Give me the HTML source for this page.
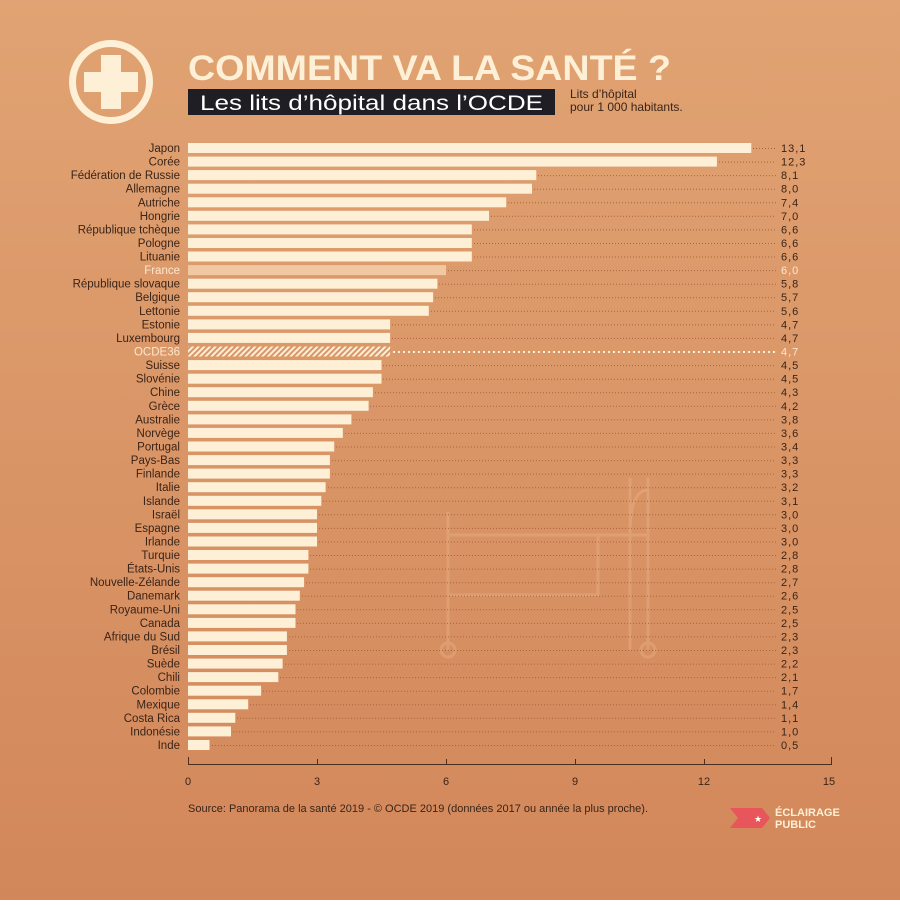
<!DOCTYPE html>
<html><head><meta charset="utf-8"><style>
html,body{margin:0;padding:0}
body{width:900px;height:900px;overflow:hidden}
text{font-family:"Liberation Sans",sans-serif}
.l{font-size:11.5px;fill:#3a2418;text-anchor:end}
.v{font-size:11px;fill:#3a2418;letter-spacing:1px}
.b{fill:#fdf0d6}
.d{stroke:#a8653a;stroke-width:1;stroke-dasharray:1 2}
</style></head><body>
<svg width="900" height="900" viewBox="0 0 900 900" xmlns="http://www.w3.org/2000/svg">
<defs>
<linearGradient id="bg" x1="0" y1="0" x2="0" y2="1"><stop offset="0" stop-color="#e1a373"/><stop offset="1" stop-color="#d2875a"/></linearGradient>
<pattern id="hatch" width="4" height="4" patternUnits="userSpaceOnUse" patternTransform="rotate(45)"><rect width="4" height="4" fill="#d99668"/><rect width="2" height="4" fill="#fdf0d6"/></pattern>
</defs>
<rect width="900" height="900" fill="url(#bg)"/>
<g fill="none" stroke="#eab48a" stroke-width="3" opacity="0.4">
<path d="M448 512 V650 M448 535 H598 V595 H448 M598 535 H648 M630 478 V650 M648 478 V650 M630 535 Q630 490 648 490"/>
<circle cx="448" cy="650" r="7"/><circle cx="648" cy="650" r="7"/>
</g>
<circle cx="111" cy="82" r="38.5" fill="none" stroke="#fdf0d6" stroke-width="7"/>
<rect x="84" y="72" width="54" height="20" fill="#fdf0d6"/>
<rect x="101" y="55" width="20" height="54" fill="#fdf0d6"/>
<text x="188" y="80" font-size="35" font-weight="bold" fill="#fdf0d6" textLength="483" lengthAdjust="spacingAndGlyphs">COMMENT VA LA SANTÉ ?</text>
<rect x="188" y="89" width="367" height="26" fill="#1f1e24"/>
<text x="200" y="110" font-size="21" fill="#ffffff" textLength="343" lengthAdjust="spacingAndGlyphs">Les lits d’hôpital dans l’OCDE</text>
<text x="570" y="98" font-size="12" fill="#3a2418">Lits d’hôpital</text>
<text x="570" y="111" font-size="12" fill="#3a2418">pour 1 000 habitants.</text>

<g id="rows">
<g transform="translate(0,148)"><text class="l" x="180" y="4">Japon</text><rect class="b" x="188" y="-5" width="563.3" height="10"/><line class="d" x1="753" x2="776" y1="0.5" y2="0.5"/><text class="v" x="781" y="4">13,1</text></g>
<g transform="translate(0,161.6)"><text class="l" x="180" y="4">Corée</text><rect class="b" x="188" y="-5" width="528.9" height="10"/><line class="d" x1="719" x2="776" y1="0.5" y2="0.5"/><text class="v" x="781" y="4">12,3</text></g>
<g transform="translate(0,175.1)"><text class="l" x="180" y="4">Fédération de Russie</text><rect class="b" x="188" y="-5" width="348.3" height="10"/><line class="d" x1="538" x2="776" y1="0.5" y2="0.5"/><text class="v" x="781" y="4">8,1</text></g>
<g transform="translate(0,188.7)"><text class="l" x="180" y="4">Allemagne</text><rect class="b" x="188" y="-5" width="344" height="10"/><line class="d" x1="534" x2="776" y1="0.5" y2="0.5"/><text class="v" x="781" y="4">8,0</text></g>
<g transform="translate(0,202.3)"><text class="l" x="180" y="4">Autriche</text><rect class="b" x="188" y="-5" width="318.2" height="10"/><line class="d" x1="508" x2="776" y1="0.5" y2="0.5"/><text class="v" x="781" y="4">7,4</text></g>
<g transform="translate(0,215.8)"><text class="l" x="180" y="4">Hongrie</text><rect class="b" x="188" y="-5" width="301" height="10"/><line class="d" x1="491" x2="776" y1="0.5" y2="0.5"/><text class="v" x="781" y="4">7,0</text></g>
<g transform="translate(0,229.4)"><text class="l" x="180" y="4">République tchèque</text><rect class="b" x="188" y="-5" width="283.8" height="10"/><line class="d" x1="474" x2="776" y1="0.5" y2="0.5"/><text class="v" x="781" y="4">6,6</text></g>
<g transform="translate(0,243)"><text class="l" x="180" y="4">Pologne</text><rect class="b" x="188" y="-5" width="283.8" height="10"/><line class="d" x1="474" x2="776" y1="0.5" y2="0.5"/><text class="v" x="781" y="4">6,6</text></g>
<g transform="translate(0,256.5)"><text class="l" x="180" y="4">Lituanie</text><rect class="b" x="188" y="-5" width="283.8" height="10"/><line class="d" x1="474" x2="776" y1="0.5" y2="0.5"/><text class="v" x="781" y="4">6,6</text></g>
<g transform="translate(0,270.1)"><text class="l" x="180" y="4" style="fill:#fbe8cc">France</text><rect x="188" y="-5" width="258" height="10" fill="#f0c9a3"/><line class="d" x1="448" x2="776" y1="0.5" y2="0.5"/><text class="v" x="781" y="4" style="fill:#fbe8cc">6,0</text></g>
<g transform="translate(0,283.7)"><text class="l" x="180" y="4">République slovaque</text><rect class="b" x="188" y="-5" width="249.4" height="10"/><line class="d" x1="439" x2="776" y1="0.5" y2="0.5"/><text class="v" x="781" y="4">5,8</text></g>
<g transform="translate(0,297.2)"><text class="l" x="180" y="4">Belgique</text><rect class="b" x="188" y="-5" width="245.1" height="10"/><line class="d" x1="435" x2="776" y1="0.5" y2="0.5"/><text class="v" x="781" y="4">5,7</text></g>
<g transform="translate(0,310.8)"><text class="l" x="180" y="4">Lettonie</text><rect class="b" x="188" y="-5" width="240.8" height="10"/><line class="d" x1="431" x2="776" y1="0.5" y2="0.5"/><text class="v" x="781" y="4">5,6</text></g>
<g transform="translate(0,324.4)"><text class="l" x="180" y="4">Estonie</text><rect class="b" x="188" y="-5" width="202.1" height="10"/><line class="d" x1="392" x2="776" y1="0.5" y2="0.5"/><text class="v" x="781" y="4">4,7</text></g>
<g transform="translate(0,337.9)"><text class="l" x="180" y="4">Luxembourg</text><rect class="b" x="188" y="-5" width="202.1" height="10"/><line class="d" x1="392" x2="776" y1="0.5" y2="0.5"/><text class="v" x="781" y="4">4,7</text></g>
<g transform="translate(0,351.5)"><text class="l" x="180" y="4" style="fill:#fbe8cc">OCDE36</text><rect x="188" y="-5" width="202.1" height="10" fill="url(#hatch)"/><line x1="393" x2="776" y1="0.5" y2="0.5" stroke="#fdf0d6" stroke-width="2" stroke-dasharray="2 3"/><text class="v" x="781" y="4" style="fill:#fbe8cc">4,7</text></g>
<g transform="translate(0,365.1)"><text class="l" x="180" y="4">Suisse</text><rect class="b" x="188" y="-5" width="193.5" height="10"/><line class="d" x1="383" x2="776" y1="0.5" y2="0.5"/><text class="v" x="781" y="4">4,5</text></g>
<g transform="translate(0,378.7)"><text class="l" x="180" y="4">Slovénie</text><rect class="b" x="188" y="-5" width="193.5" height="10"/><line class="d" x1="383" x2="776" y1="0.5" y2="0.5"/><text class="v" x="781" y="4">4,5</text></g>
<g transform="translate(0,392.2)"><text class="l" x="180" y="4">Chine</text><rect class="b" x="188" y="-5" width="184.9" height="10"/><line class="d" x1="375" x2="776" y1="0.5" y2="0.5"/><text class="v" x="781" y="4">4,3</text></g>
<g transform="translate(0,405.8)"><text class="l" x="180" y="4">Grèce</text><rect class="b" x="188" y="-5" width="180.6" height="10"/><line class="d" x1="370" x2="776" y1="0.5" y2="0.5"/><text class="v" x="781" y="4">4,2</text></g>
<g transform="translate(0,419.4)"><text class="l" x="180" y="4">Australie</text><rect class="b" x="188" y="-5" width="163.4" height="10"/><line class="d" x1="353" x2="776" y1="0.5" y2="0.5"/><text class="v" x="781" y="4">3,8</text></g>
<g transform="translate(0,432.9)"><text class="l" x="180" y="4">Norvège</text><rect class="b" x="188" y="-5" width="154.8" height="10"/><line class="d" x1="345" x2="776" y1="0.5" y2="0.5"/><text class="v" x="781" y="4">3,6</text></g>
<g transform="translate(0,446.5)"><text class="l" x="180" y="4">Portugal</text><rect class="b" x="188" y="-5" width="146.2" height="10"/><line class="d" x1="336" x2="776" y1="0.5" y2="0.5"/><text class="v" x="781" y="4">3,4</text></g>
<g transform="translate(0,460.1)"><text class="l" x="180" y="4">Pays-Bas</text><rect class="b" x="188" y="-5" width="141.9" height="10"/><line class="d" x1="332" x2="776" y1="0.5" y2="0.5"/><text class="v" x="781" y="4">3,3</text></g>
<g transform="translate(0,473.6)"><text class="l" x="180" y="4">Finlande</text><rect class="b" x="188" y="-5" width="141.9" height="10"/><line class="d" x1="332" x2="776" y1="0.5" y2="0.5"/><text class="v" x="781" y="4">3,3</text></g>
<g transform="translate(0,487.2)"><text class="l" x="180" y="4">Italie</text><rect class="b" x="188" y="-5" width="137.6" height="10"/><line class="d" x1="328" x2="776" y1="0.5" y2="0.5"/><text class="v" x="781" y="4">3,2</text></g>
<g transform="translate(0,500.8)"><text class="l" x="180" y="4">Islande</text><rect class="b" x="188" y="-5" width="133.3" height="10"/><line class="d" x1="323" x2="776" y1="0.5" y2="0.5"/><text class="v" x="781" y="4">3,1</text></g>
<g transform="translate(0,514.3)"><text class="l" x="180" y="4">Israël</text><rect class="b" x="188" y="-5" width="129" height="10"/><line class="d" x1="319" x2="776" y1="0.5" y2="0.5"/><text class="v" x="781" y="4">3,0</text></g>
<g transform="translate(0,527.9)"><text class="l" x="180" y="4">Espagne</text><rect class="b" x="188" y="-5" width="129" height="10"/><line class="d" x1="319" x2="776" y1="0.5" y2="0.5"/><text class="v" x="781" y="4">3,0</text></g>
<g transform="translate(0,541.5)"><text class="l" x="180" y="4">Irlande</text><rect class="b" x="188" y="-5" width="129" height="10"/><line class="d" x1="319" x2="776" y1="0.5" y2="0.5"/><text class="v" x="781" y="4">3,0</text></g>
<g transform="translate(0,555)"><text class="l" x="180" y="4">Turquie</text><rect class="b" x="188" y="-5" width="120.4" height="10"/><line class="d" x1="310" x2="776" y1="0.5" y2="0.5"/><text class="v" x="781" y="4">2,8</text></g>
<g transform="translate(0,568.6)"><text class="l" x="180" y="4">États-Unis</text><rect class="b" x="188" y="-5" width="120.4" height="10"/><line class="d" x1="310" x2="776" y1="0.5" y2="0.5"/><text class="v" x="781" y="4">2,8</text></g>
<g transform="translate(0,582.2)"><text class="l" x="180" y="4">Nouvelle-Zélande</text><rect class="b" x="188" y="-5" width="116.1" height="10"/><line class="d" x1="306" x2="776" y1="0.5" y2="0.5"/><text class="v" x="781" y="4">2,7</text></g>
<g transform="translate(0,595.7)"><text class="l" x="180" y="4">Danemark</text><rect class="b" x="188" y="-5" width="111.8" height="10"/><line class="d" x1="302" x2="776" y1="0.5" y2="0.5"/><text class="v" x="781" y="4">2,6</text></g>
<g transform="translate(0,609.3)"><text class="l" x="180" y="4">Royaume-Uni</text><rect class="b" x="188" y="-5" width="107.5" height="10"/><line class="d" x1="297" x2="776" y1="0.5" y2="0.5"/><text class="v" x="781" y="4">2,5</text></g>
<g transform="translate(0,622.9)"><text class="l" x="180" y="4">Canada</text><rect class="b" x="188" y="-5" width="107.5" height="10"/><line class="d" x1="297" x2="776" y1="0.5" y2="0.5"/><text class="v" x="781" y="4">2,5</text></g>
<g transform="translate(0,636.4)"><text class="l" x="180" y="4">Afrique du Sud</text><rect class="b" x="188" y="-5" width="98.9" height="10"/><line class="d" x1="289" x2="776" y1="0.5" y2="0.5"/><text class="v" x="781" y="4">2,3</text></g>
<g transform="translate(0,650)"><text class="l" x="180" y="4">Brésil</text><rect class="b" x="188" y="-5" width="98.9" height="10"/><line class="d" x1="289" x2="776" y1="0.5" y2="0.5"/><text class="v" x="781" y="4">2,3</text></g>
<g transform="translate(0,663.6)"><text class="l" x="180" y="4">Suède</text><rect class="b" x="188" y="-5" width="94.6" height="10"/><line class="d" x1="285" x2="776" y1="0.5" y2="0.5"/><text class="v" x="781" y="4">2,2</text></g>
<g transform="translate(0,677.1)"><text class="l" x="180" y="4">Chili</text><rect class="b" x="188" y="-5" width="90.3" height="10"/><line class="d" x1="280" x2="776" y1="0.5" y2="0.5"/><text class="v" x="781" y="4">2,1</text></g>
<g transform="translate(0,690.7)"><text class="l" x="180" y="4">Colombie</text><rect class="b" x="188" y="-5" width="73.1" height="10"/><line class="d" x1="263" x2="776" y1="0.5" y2="0.5"/><text class="v" x="781" y="4">1,7</text></g>
<g transform="translate(0,704.3)"><text class="l" x="180" y="4">Mexique</text><rect class="b" x="188" y="-5" width="60.2" height="10"/><line class="d" x1="250" x2="776" y1="0.5" y2="0.5"/><text class="v" x="781" y="4">1,4</text></g>
<g transform="translate(0,717.8)"><text class="l" x="180" y="4">Costa Rica</text><rect class="b" x="188" y="-5" width="47.3" height="10"/><line class="d" x1="237" x2="776" y1="0.5" y2="0.5"/><text class="v" x="781" y="4">1,1</text></g>
<g transform="translate(0,731.4)"><text class="l" x="180" y="4">Indonésie</text><rect class="b" x="188" y="-5" width="43" height="10"/><line class="d" x1="233" x2="776" y1="0.5" y2="0.5"/><text class="v" x="781" y="4">1,0</text></g>
<g transform="translate(0,745)"><text class="l" x="180" y="4">Inde</text><rect class="b" x="188" y="-5" width="21.5" height="10"/><line class="d" x1="212" x2="776" y1="0.5" y2="0.5"/><text class="v" x="781" y="4">0,5</text></g>
</g>

<g stroke="#4a2e1e" stroke-width="1">
<line x1="188" x2="832" y1="764.5" y2="764.5"/>
<line x1="188.5" x2="188.5" y1="757" y2="765"/><line x1="317.5" x2="317.5" y1="759" y2="765"/><line x1="446.5" x2="446.5" y1="759" y2="765"/><line x1="575.5" x2="575.5" y1="759" y2="765"/><line x1="704.5" x2="704.5" y1="759" y2="765"/><line x1="831.5" x2="831.5" y1="757" y2="765"/>
</g>
<g font-size="11" fill="#3a2418" text-anchor="middle">
<text x="188" y="785">0</text><text x="317" y="785">3</text><text x="446" y="785">6</text><text x="575" y="785">9</text><text x="704" y="785">12</text><text x="829" y="785">15</text>
</g>
<text x="188" y="812" font-size="11" fill="#3a2418">Source: Panorama de la santé 2019 - © OCDE 2019 (données 2017 ou année la plus proche).</text>
<path d="M730 808 H762 L770 818 L762 828 H730 L738 818 Z" fill="#e8555a"/>
<text x="758" y="822" font-size="9" fill="#fff" text-anchor="middle">★</text>
<text x="775" y="816" font-size="11" font-weight="bold" fill="#fdf0d6">ÉCLAIRAGE</text>
<text x="775" y="828" font-size="11" font-weight="bold" fill="#fdf0d6">PUBLIC</text>
</svg>
</body></html>
